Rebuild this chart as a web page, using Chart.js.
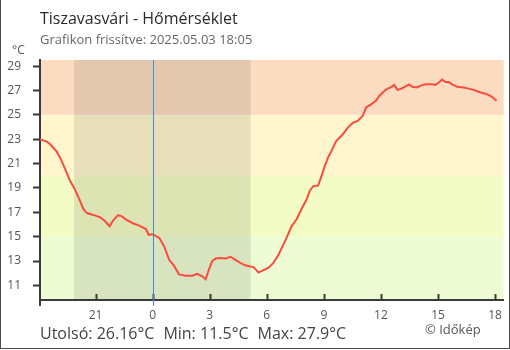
<!DOCTYPE html>
<html>
<head>
<meta charset="utf-8">
<title>Tiszavasvári - Hőmérséklet</title>
<script src="https://cdn.jsdelivr.net/npm/chart.js@4/dist/chart.umd.min.js"></script>
<style>
  html, body { margin: 0; padding: 0; background: #fff; }
  #wrap { position: relative; width: 510px; height: 350px; overflow: hidden; font-family: "Open Sans", sans-serif; }
  #wrap canvas { position: absolute; left: 0; top: 0; }
  .txt { position: absolute; white-space: pre; line-height: 1; }
  #title { left: 40px; top: 10px; font-size: 16px; color: #2a2a2a; }
  #subtitle { left: 40px; top: 33px; font-size: 13px; color: #666; }
  #unit { left: 12px; top: 44px; font-size: 12px; color: #555; }
  #stats { left: 40px; top: 325px; font-size: 16px; color: #444; }
  #stats span { margin-right: 9px; }
  #credit { left: 425px; top: 323px; font-size: 13px; color: #555; }
  #frame { position: absolute; left: 0; top: -2px; width: 510px; height: 351px; box-sizing: border-box; border: 1px solid #4a4a4a; pointer-events: none; }
</style>
</head>
<body>
<div id="wrap">
  <canvas id="chart" width="510" height="350"></canvas>
  <div class="txt" id="title">Tiszavasvári - Hőmérséklet</div>
  <div class="txt" id="subtitle">Grafikon frissítve: 2025.05.03 18:05</div>
  <div class="txt" id="unit">°C</div>
  <div class="txt" id="stats"></div>
  <div class="txt" id="credit">© Időkép</div>
  <div id="frame"></div>
</div>
<script>
// Hours relative to local midnight (negative = previous evening)
const hours = [
  -5.92, -5.75, -5.56, -5.40, -5.22, -5.05, -4.87, -4.61, -4.35, -4.09,
  -3.86, -3.65, -3.50, -3.39, -3.04, -2.78, -2.52, -2.35, -2.26, -2.09,
  -1.83, -1.65, -1.39, -1.04, -0.70, -0.34, -0.21, 0.00, 0.18, 0.35,
  0.61, 0.87, 1.13, 1.39, 1.74, 2.09, 2.35, 2.61, 2.79, 2.96,
  3.13, 3.31, 3.57, 3.83, 4.09, 4.35, 4.61, 4.87, 5.13, 5.31,
  5.57, 5.83, 6.09, 6.35, 6.61, 7.04, 7.30, 7.56, 7.82, 8.09,
  8.26, 8.44, 8.70, 8.87, 9.05, 9.22, 9.39, 9.65, 10.00, 10.26,
  10.52, 10.78, 11.04, 11.22, 11.48, 11.74, 11.91, 12.18, 12.35, 12.52,
  12.70, 12.87, 13.08, 13.25, 13.48, 13.65, 13.91, 14.08, 14.35, 14.70,
  14.87, 15.04, 15.22, 15.39, 15.57, 15.74, 16.00, 16.35, 16.61, 16.87,
  17.21, 17.56, 17.82, 18.08
];

// Air temperature, °C
const temps = [
  23.0, 22.9, 22.8, 22.6, 22.3, 22.0, 21.5, 20.6, 19.6, 18.9,
  18.1, 17.3, 17.0, 16.9, 16.75, 16.6, 16.3, 16.0, 15.85, 16.3,
  16.75, 16.7, 16.4, 16.1, 15.9, 15.6, 15.15, 15.2, 15.05, 14.9,
  14.2, 13.1, 12.6, 11.9, 11.8, 11.8, 11.95, 11.75, 11.5, 12.3,
  13.0, 13.2, 13.25, 13.2, 13.35, 13.1, 12.85, 12.65, 12.55, 12.5,
  12.05, 12.25, 12.45, 12.85, 13.5, 14.9, 15.85, 16.4, 17.25, 18.05,
  18.75, 19.15, 19.2, 19.95, 20.8, 21.5, 22.0, 22.85, 23.4, 23.95,
  24.35, 24.5, 24.9, 25.6, 25.85, 26.15, 26.55, 26.95, 27.15, 27.25,
  27.45, 27.05, 27.15, 27.3, 27.5, 27.3, 27.25, 27.4, 27.5, 27.5,
  27.45, 27.65, 27.9, 27.7, 27.7, 27.5, 27.3, 27.25, 27.15, 27.05,
  26.85, 26.7, 26.5, 26.16
];

// Axis ticks
const xTickHours = [-3, 0, 3, 6, 9, 12, 15, 18];
const yTickValues = [11, 13, 15, 17, 19, 21, 23, 25, 27, 29];

// Temperature bands (lower limits of the upper bands) and the night interval
const bandLimits = [15, 20, 25];
const nightSpan = [-4.13, 5.15];

// Styling
const bandColors = ['#edfcd2', '#f4fcc5', '#fff6cd', '#fcdcc0'];
const nightColor = 'rgba(40, 40, 40, 0.11)';
const axisColor = '#3a3a3a';
const midnightColor = '#3d8fd1';
const lineColor = '#fb4a3e';

// Summary line below the chart
const lastVal = temps[temps.length - 1];
const minVal = Math.min(...temps);
const maxVal = Math.max(...temps);
document.getElementById('stats').innerHTML =
  '<span>Utolsó: ' + lastVal + '°C</span><span>Min: ' + minVal + '°C</span><span>Max: ' + maxVal + '°C</span>';

const backdrop = {
  id: 'backdrop',
  beforeDraw(chart) {
    const { ctx, chartArea: a, scales: { x, y } } = chart;
    ctx.save();
    const edges = [y.min, ...bandLimits, y.max];
    for (let i = 0; i < edges.length - 1; i++) {
      const yb = y.getPixelForValue(edges[i]);
      const yt = y.getPixelForValue(edges[i + 1]);
      ctx.fillStyle = bandColors[i];
      ctx.fillRect(a.left, yt, a.right - a.left, yb - yt);
    }
    const n0 = x.getPixelForValue(nightSpan[0]);
    const n1 = x.getPixelForValue(nightSpan[1]);
    ctx.fillStyle = nightColor;
    ctx.fillRect(n0, a.top, n1 - n0, a.bottom - a.top);
    ctx.restore();
  },
  afterDatasetsDraw(chart) {
    const { ctx, chartArea: a, scales: { x } } = chart;
    ctx.save();
    ctx.strokeStyle = axisColor;
    ctx.lineWidth = 2;
    // inner tick marks along the time axis
    xTickHours.forEach(h => {
      const px = Math.round(x.getPixelForValue(h)) + 0.5;
      ctx.beginPath();
      ctx.moveTo(px, a.bottom - 6);
      ctx.lineTo(px, a.bottom);
      ctx.stroke();
    });
    // value axis runs a little past the time axis
    ctx.beginPath();
    ctx.moveTo(a.left, a.bottom);
    ctx.lineTo(a.left, a.bottom + 6);
    ctx.stroke();
    // midnight marker
    const mx = Math.round(x.getPixelForValue(0)) + 0.5;
    ctx.strokeStyle = midnightColor;
    ctx.lineWidth = 1;
    ctx.beginPath();
    ctx.moveTo(mx, a.top);
    ctx.lineTo(mx, a.bottom + 6);
    ctx.stroke();
    ctx.restore();
  }
};

new Chart(document.getElementById('chart'), {
  type: 'line',
  data: {
    datasets: [{
      data: hours.map((h, i) => ({ x: h, y: temps[i] })),
      borderColor: lineColor,
      borderWidth: 2,
      pointRadius: 0,
      tension: 0,
      fill: false
    }]
  },
  options: {
    responsive: false,
    animation: false,
    devicePixelRatio: 1,
    layout: { padding: { top: 60, right: 3, bottom: 0, left: 0 } },
    plugins: { legend: { display: false }, tooltip: { enabled: false } },
    scales: {
      x: {
        type: 'linear',
        min: -5.92,
        max: 18.45,
        afterBuildTicks: s => { s.ticks = xTickHours.map(v => ({ value: v })); },
        afterFit: s => { s.height = 50; },
        ticks: {
          autoSkip: false,
          maxRotation: 0,
          padding: 8,
          color: '#555',
          font: { family: 'Open Sans', size: 12 },
          callback: v => ((v % 24) + 24) % 24
        },
        grid: { drawOnChartArea: false, drawTicks: false, color: axisColor },
        border: { display: true, color: axisColor, width: 2 }
      },
      y: {
        min: 9.8,
        max: 29.5,
        afterBuildTicks: s => { s.ticks = yTickValues.map(v => ({ value: v })); },
        afterFit: s => { s.width = 40; },
        ticks: {
          padding: 12,
          color: '#555',
          font: { family: 'Open Sans', size: 12 }
        },
        grid: { drawOnChartArea: false, drawTicks: true, tickLength: 7, tickWidth: 2, tickColor: axisColor, color: axisColor },
        border: { display: true, color: axisColor, width: 2 }
      }
    }
  },
  plugins: [backdrop]
});
</script>
</body>
</html>
